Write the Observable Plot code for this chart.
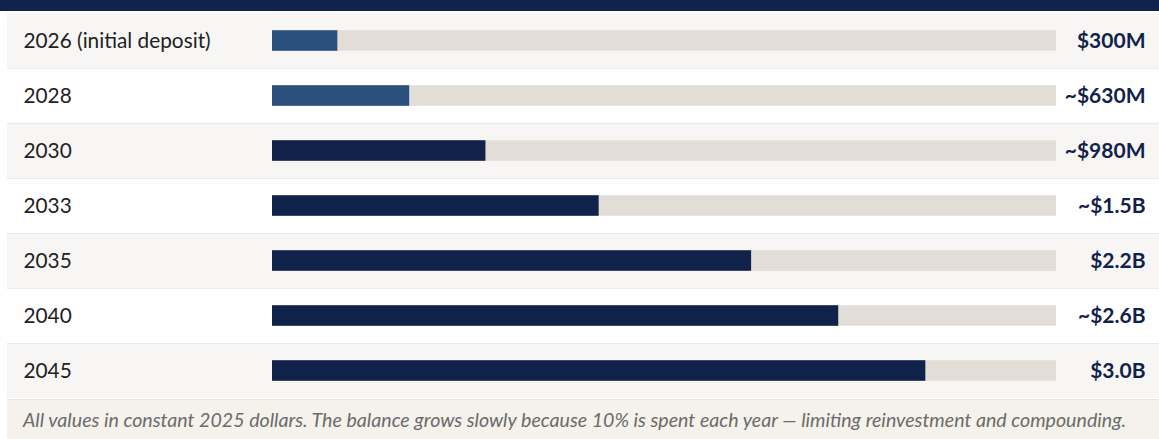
<!DOCTYPE html>
<html>
<head>
<meta charset="utf-8">
<script src="https://cdn.jsdelivr.net/npm/d3@7"></script>
<script src="https://cdn.jsdelivr.net/npm/@observablehq/plot@0.6"></script>
<style>
  html, body { margin: 0; padding: 0; background: #ffffff; }
  body { width: 1159px; height: 439px; overflow: hidden; font-family: Lato, "Noto Sans", sans-serif; }
  #topbar { height: 11px; background: #11224a; }
  #chart svg { display: block; }
  #caption { margin-left: 7px; height: 40px; background: #f5f2ec; box-sizing: border-box; padding-left: 16px;
    font-style: italic; font-size: 19.6px; color: #6b6b6b; line-height: 40px; white-space: nowrap; border-top: 1px solid #e9e5dd; }
</style>
</head>
<body>
<div id="topbar"></div>
<div id="chart"></div>
<div id="caption"></div>
<script>
const years = ["2026 (initial deposit)", "2028", "2030", "2033", "2035", "2040", "2045"];
const balances = [300, 630, 980, 1500, 2200, 2600, 3000]; // $ millions, constant 2025 dollars
const valueLabels = ["$300M", "~$630M", "~$980M", "~$1.5B", "$2.2B", "~$2.6B", "$3.0B"];
const scaleMax = 3600;
const caption = "All values in constant 2025 dollars. The balance grows slowly because 10% is spent each year \u2014 limiting reinvestment and compounding.";

const data = years.map((year, i) => ({year, value: balances[i], label: valueLabels[i], i}));

const W = 1159, H = 388;
const rowH = H / years.length;
const barH = 21;
const inset = (rowH - barH) / 2;

const plot = Plot.plot({
  width: W,
  height: H,
  marginLeft: 7,
  marginRight: 0,
  marginTop: 0,
  marginBottom: 0,
  style: {fontFamily: "Lato, 'Noto Sans', sans-serif", background: "transparent"},
  x: {domain: [0, scaleMax], range: [272, 1056], axis: null},
  y: {type: "band", domain: years, padding: 0, axis: null},
  color: {type: "identity"},
  marks: [
    Plot.cell(data, {y: "year", fill: d => d.i % 2 === 0 ? "#f7f6f4" : "#ffffff"}),
    Plot.cell(data.slice(1), {y: "year", fill: "#e9e5dd", insetBottom: rowH - 1.2}),
    Plot.barX(data, {y: "year", x1: 0, x2: () => scaleMax, fill: "#e2ded7", insetTop: inset, insetBottom: inset}),
    Plot.barX(data, {y: "year", x1: 0, x2: "value", fill: d => d.i < 2 ? "#2c507e" : "#11224a", insetTop: inset, insetBottom: inset}),
    Plot.text(data, {y: "year", text: "year", frameAnchor: "left", textAnchor: "start", dx: 16, fontSize: 20.8, fill: "#222222"}),
    Plot.text(data, {y: "year", text: "label", frameAnchor: "right", textAnchor: "end", dx: -14, fontSize: 21, fontWeight: 700, fill: "#11224a"})
  ]
});
document.getElementById("chart").appendChild(plot);
document.getElementById("caption").textContent = caption;
</script>
</body>
</html>
